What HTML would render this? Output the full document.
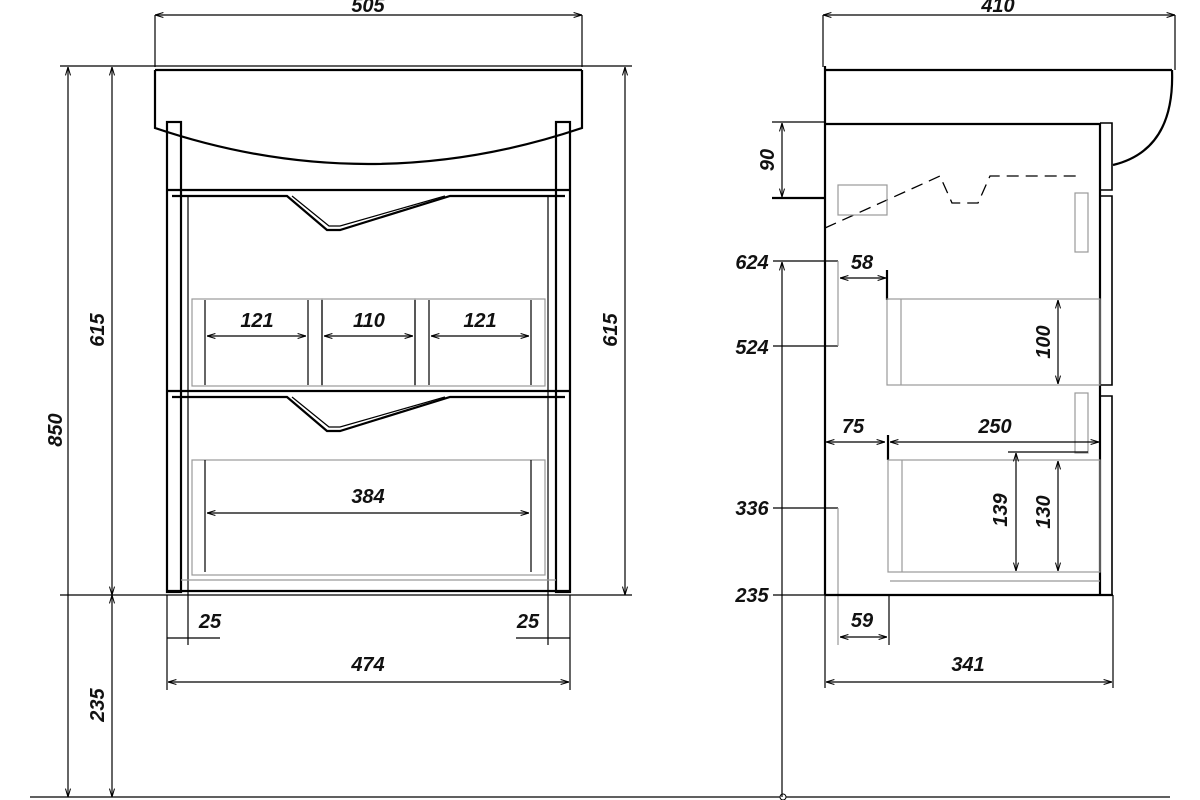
<!DOCTYPE html>
<html><head><meta charset="utf-8"><style>
html,body{margin:0;padding:0;background:#fff;}
svg{display:block;}
text{font-family:"Liberation Sans",sans-serif;font-weight:bold;font-style:italic;font-size:20px;fill:#111;text-anchor:middle;}
.k{stroke:#000;fill:none;stroke-width:2.2}
.t{stroke:#000;fill:none;stroke-width:1.2}
.g{stroke:#999;fill:none;stroke-width:1.2}
</style></head><body>
<svg width="1200" height="800" viewBox="0 0 1200 800" xmlns="http://www.w3.org/2000/svg">
<defs>
<marker id="a" viewBox="0 0 10 10" refX="10" refY="5" markerWidth="7" markerHeight="7" orient="auto-start-reverse"><path d="M0,2 L10,5 L0,8" fill="none" stroke="#000" stroke-width="1.2"/></marker>
</defs>
<line x1="30" y1="797" x2="1170" y2="797" class="t"/>
<circle cx="783" cy="797" r="3" fill="#fff" stroke="#000"/>

<!-- FRONT VIEW -->
<line x1="155" y1="15" x2="582" y2="15" class="t" marker-start="url(#a)" marker-end="url(#a)"/>
<line x1="155" y1="15" x2="155" y2="67" class="t"/><line x1="582" y1="15" x2="582" y2="67" class="t"/>
<text x="368" y="12">505</text>
<line x1="60" y1="66" x2="632" y2="66" class="t"/>
<line x1="155" y1="70" x2="582" y2="70" class="k"/>
<path d="M155,70 V128 Q368,200 582,128 V70" class="k"/>
<rect x="167" y="122" width="14" height="470" class="k"/>
<rect x="556" y="122" width="14" height="470" class="k"/>
<line x1="167" y1="190" x2="570" y2="190" class="k"/>
<path d="M172,196 H287 L327,230 H340 L450,196 H565" class="k"/>
<path d="M292,196 L329,226 L340,226 L445,196" class="t"/>
<line x1="188" y1="197" x2="188" y2="590" class="t"/>
<line x1="548" y1="197" x2="548" y2="590" class="t"/>
<rect x="192" y="299" width="130" height="87" class="g"/>
<rect x="322" y="299" width="93" height="87" class="g"/>
<rect x="415" y="299" width="130" height="87" class="g"/>
<line x1="205" y1="300" x2="205" y2="385" class="t"/><line x1="308" y1="300" x2="308" y2="385" class="t"/>
<line x1="322" y1="300" x2="322" y2="385" class="t"/><line x1="415" y1="300" x2="415" y2="385" class="t"/>
<line x1="429" y1="300" x2="429" y2="385" class="t"/><line x1="531" y1="300" x2="531" y2="385" class="t"/>
<line x1="207" y1="336" x2="306" y2="336" class="t" marker-start="url(#a)" marker-end="url(#a)"/>
<line x1="324" y1="336" x2="413" y2="336" class="t" marker-start="url(#a)" marker-end="url(#a)"/>
<line x1="431" y1="336" x2="529" y2="336" class="t" marker-start="url(#a)" marker-end="url(#a)"/>
<text x="257" y="327">121</text><text x="369" y="327">110</text><text x="480" y="327">121</text>
<line x1="167" y1="391" x2="570" y2="391" class="k"/>
<path d="M172,397 H287 L327,431 H340 L450,397 H565" class="k"/>
<path d="M292,397 L329,427 L340,427 L445,397" class="t"/>
<rect x="192" y="460" width="353" height="115" class="g"/>
<line x1="205" y1="460" x2="205" y2="572" class="t"/><line x1="531" y1="460" x2="531" y2="572" class="t"/>
<line x1="207" y1="513" x2="529" y2="513" class="t" marker-start="url(#a)" marker-end="url(#a)"/>
<text x="368" y="503">384</text>
<line x1="181" y1="580" x2="556" y2="580" class="g"/>
<line x1="167" y1="591" x2="570" y2="591" class="k"/>
<line x1="60" y1="595" x2="632" y2="595" class="t"/>
<line x1="167" y1="595" x2="167" y2="690" class="t"/><line x1="570" y1="595" x2="570" y2="690" class="t"/>
<line x1="188" y1="590" x2="188" y2="645" class="t"/><line x1="548" y1="590" x2="548" y2="645" class="t"/>
<line x1="167" y1="638" x2="220" y2="638" class="t"/><line x1="516" y1="638" x2="570" y2="638" class="t"/>
<text x="210" y="628">25</text><text x="528" y="628">25</text>
<line x1="168" y1="682" x2="569" y2="682" class="t" marker-start="url(#a)" marker-end="url(#a)"/>
<text x="368" y="671">474</text>
<line x1="68" y1="67" x2="68" y2="797" class="t" marker-start="url(#a)" marker-end="url(#a)"/>
<line x1="112" y1="67" x2="112" y2="595" class="t" marker-start="url(#a)" marker-end="url(#a)"/>
<line x1="112" y1="595" x2="112" y2="797" class="t" marker-start="url(#a)" marker-end="url(#a)"/>
<line x1="625" y1="67" x2="625" y2="595" class="t" marker-start="url(#a)" marker-end="url(#a)"/>
<text transform="translate(62,430) rotate(-90)">850</text>
<text transform="translate(104,330) rotate(-90)">615</text>
<text transform="translate(104,705) rotate(-90)">235</text>
<text transform="translate(617,330) rotate(-90)">615</text>

<!-- SIDE VIEW -->
<line x1="823" y1="15" x2="1175" y2="15" class="t" marker-start="url(#a)" marker-end="url(#a)"/>
<line x1="823" y1="15" x2="823" y2="67" class="t"/><line x1="1175" y1="15" x2="1175" y2="70" class="t"/>
<text x="998" y="12">410</text>
<line x1="825" y1="66" x2="825" y2="595" class="k"/>
<line x1="825" y1="70" x2="1172" y2="70" class="k"/>
<path d="M1172,70 Q1175,150 1113,165" class="k"/>
<line x1="825" y1="124" x2="1100" y2="124" class="k"/>
<line x1="1100" y1="123" x2="1100" y2="595" class="k"/>
<path d="M1100,123 H1112 V190 H1100 M1100,196 H1112 V385 H1100 M1100,396 H1112 V595" fill="none" stroke="#000" stroke-width="1.6"/>
<path d="M825,228 L940,176 L952,203 L978,203 L990,176 L1080,176" fill="none" stroke="#000" stroke-width="1.3" stroke-dasharray="12,7"/>
<rect x="838" y="185" width="49" height="30" class="g"/>
<rect x="1075" y="193" width="13" height="59" class="g"/>
<rect x="1075" y="393" width="13" height="60" class="g"/>
<line x1="772" y1="122" x2="825" y2="122" class="t"/><line x1="772" y1="198" x2="825" y2="198" class="k"/>
<line x1="782" y1="123" x2="782" y2="197" class="t" marker-start="url(#a)" marker-end="url(#a)"/>
<text transform="translate(774,160) rotate(-90)">90</text>
<line x1="773" y1="261" x2="838" y2="261" class="t"/><line x1="773" y1="346" x2="838" y2="346" class="t"/>
<line x1="838" y1="261" x2="838" y2="346" class="g"/>
<line x1="782" y1="262" x2="782" y2="797" class="t" marker-start="url(#a)"/>
<text x="752" y="269">624</text><text x="752" y="354">524</text>
<text x="752" y="515">336</text><text x="752" y="602">235</text>
<line x1="773" y1="508" x2="838" y2="508" class="t"/>
<line x1="773" y1="595" x2="825" y2="595" class="t"/>
<line x1="838" y1="508" x2="838" y2="645" class="g"/>
<line x1="840" y1="278" x2="886" y2="278" class="t" marker-start="url(#a)" marker-end="url(#a)"/>
<line x1="887" y1="270" x2="887" y2="300" class="k"/>
<text x="862" y="269">58</text>
<rect x="887" y="299" width="213" height="86" class="g"/>
<line x1="901" y1="299" x2="901" y2="385" class="g"/>
<line x1="1058" y1="300" x2="1058" y2="384" class="t" marker-start="url(#a)" marker-end="url(#a)"/>
<text transform="translate(1050,342) rotate(-90)">100</text>
<line x1="826" y1="442" x2="885" y2="442" class="t" marker-start="url(#a)" marker-end="url(#a)"/>
<line x1="890" y1="442" x2="1099" y2="442" class="t" marker-start="url(#a)" marker-end="url(#a)"/>
<line x1="888" y1="435" x2="888" y2="460" class="k"/>
<text x="853" y="433">75</text><text x="995" y="433">250</text>
<rect x="888" y="460" width="212" height="112" class="g"/>
<line x1="902" y1="460" x2="902" y2="572" class="g"/>
<line x1="1008" y1="452" x2="1088" y2="452" class="t"/>
<line x1="1016" y1="453" x2="1016" y2="571" class="t" marker-start="url(#a)" marker-end="url(#a)"/>
<line x1="1058" y1="461" x2="1058" y2="571" class="t" marker-start="url(#a)" marker-end="url(#a)"/>
<text transform="translate(1007,510) rotate(-90)">139</text>
<text transform="translate(1050,512) rotate(-90)">130</text>
<line x1="890" y1="581" x2="1100" y2="581" class="g"/>
<line x1="825" y1="595" x2="1113" y2="595" class="k"/>
<line x1="889" y1="595" x2="889" y2="645" class="t"/>
<line x1="840" y1="637" x2="887" y2="637" class="t" marker-start="url(#a)" marker-end="url(#a)"/>
<text x="862" y="627">59</text>
<line x1="825" y1="595" x2="825" y2="688" class="t"/><line x1="1113" y1="595" x2="1113" y2="688" class="t"/>
<line x1="826" y1="682" x2="1112" y2="682" class="t" marker-start="url(#a)" marker-end="url(#a)"/>
<text x="968" y="671">341</text>
</svg>
</body></html>
